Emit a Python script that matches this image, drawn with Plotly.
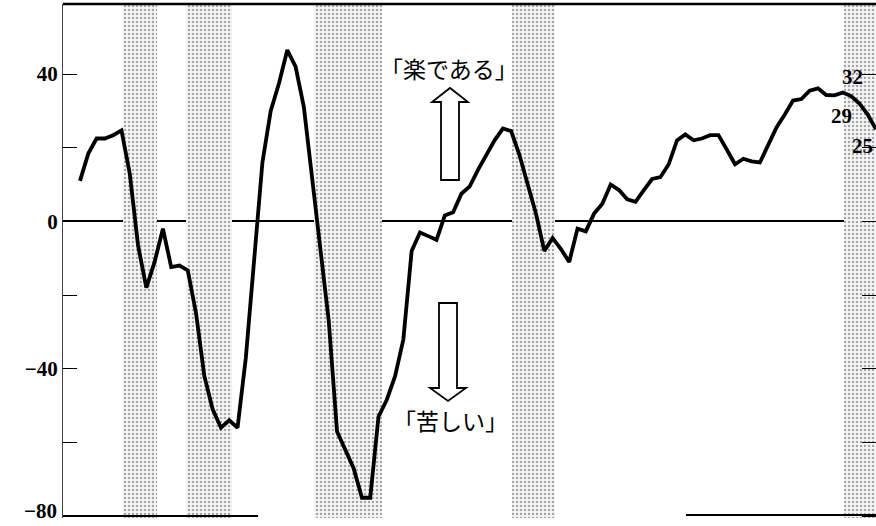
import plotly.graph_objects as go

# ---- data (quarterly index, DI values) ----
di_values = [
    11, 18.4, 22.5, 22.5, 23.4, 24.7, 13, -6.5, -18, -11,
    -2, -12.4, -12, -13.3, -25, -42, -51, -56, -54, -56,
    -37, -9, 16, 30, 37.5, 46.5, 42, 31, 12, -9,
    -27, -57, -62, -67, -75, -75, -53, -48.4, -42, -32,
    -8, -3, -4, -5, 1.6, 2.5, 7.5, 9.5, 14, 18,
    22, 25.2, 24.5, 18, 10, 2, -8, -4.5, -7.5, -11,
    -2, -2.7, 2.1, 4.8, 10, 8.5, 6, 5.3, 8.5, 11.5,
    12, 15.5, 22, 23.6, 22, 22.5, 23.4, 23.4, 19.5, 15.5,
    17, 16.3, 16, 21, 25.5, 29, 32.8, 33.2, 35.5, 36.1,
    34.3, 34.2, 35, 34, 32, 29, 25,
]
period_index = list(range(len(di_values)))

# shaded periods (recessions), in period-index units
band_start = [5.2, 12.8, 28.2, 52.1, 92.2]
band_end = [9.3, 18.3, 36.4, 57.3, 96.6]

# y-axis ticks
tick_vals = [-80, -60, -40, -20, 0, 20, 40]
tick_text = ["", "", "\u221240", "", "0", "", "40"]
bottom_tick_text = "\u221280"

# end labels
end_labels = ["32", "29", "25"]
label_up = "「楽である」"
label_down = "「苦しい」"

# ---- layout constants (pixels) ----
W, H = 876, 526
L, R, T, B = 63, 0, 4, 8
PW, PH = W - L - R, H - T - B
X_RANGE = [-2.05, 96.0]
Y_RANGE = [-80.5, 59]


def px(xp):
    return (xp - L) / PW


def py(yp):
    return (H - B - yp) / PH


fig = go.Figure()

# dotted shaded bands
for s, e in zip(band_start, band_end):
    fig.add_trace(go.Bar(
        x=[(s + e) / 2], y=[Y_RANGE[1] - Y_RANGE[0]], base=[Y_RANGE[0]],
        width=[e - s],
        marker=dict(color="white", line=dict(width=0),
                    pattern=dict(shape=".", fgcolor="#555555", bgcolor="#f6f6f6",
                                 size=4, solidity=0.32)),
        hoverinfo="skip", showlegend=False,
    ))

fig.add_trace(go.Scatter(
    x=period_index, y=di_values, mode="lines",
    line=dict(color="black", width=3.8, shape="linear"),
    showlegend=False, cliponaxis=False,
))

shapes = []
# top border
shapes.append(dict(type="line", xref="paper", yref="paper", x0=0, x1=1, y0=1, y1=1,
                   line=dict(color="black", width=2.5)))
# bottom broken border segments
shapes.append(dict(type="line", xref="paper", yref="paper", x0=0, x1=px(258), y0=py(516), y1=py(516),
                   line=dict(color="black", width=2)))
shapes.append(dict(type="line", xref="paper", yref="paper", x0=px(686), x1=1, y0=py(515), y1=py(515),
                   line=dict(color="black", width=2)))


def arrow_path(points):
    segs = []
    for i, (a, b) in enumerate(points):
        segs.append(("M" if i == 0 else "L") + f"{px(a):.5f},{py(b):.5f}")
    return " ".join(segs) + " Z"


up_pts = [(441, 180), (441, 102), (432, 102), (450, 88), (468, 102), (459, 102), (459, 180)]
down_pts = [(439, 303), (457, 303), (457, 388), (466, 388), (448, 401), (430, 388), (439, 388)]
for pts in (up_pts, down_pts):
    shapes.append(dict(type="path", xref="paper", yref="paper", path=arrow_path(pts),
                       fillcolor="white", line=dict(color="black", width=1.8)))

annotations = [
    dict(text=label_up, x=px(449), y=py(68), xref="paper", yref="paper",
         showarrow=False, xanchor="center", yanchor="middle",
         font=dict(family="Noto Sans CJK JP", size=23, color="black")),
    dict(text=label_down, x=px(450), y=py(420), xref="paper", yref="paper",
         showarrow=False, xanchor="center", yanchor="middle",
         font=dict(family="Noto Sans CJK JP", size=23, color="black")),
    dict(text=bottom_tick_text, x=px(59), xref="paper", y=py(525), yref="paper",
         showarrow=False, xanchor="right", yanchor="bottom",
         font=dict(family="Liberation Serif", size=21, color="black", weight="bold")),
]
for txt, (ax, ay) in zip(end_labels, [(852, 77), (841, 116), (862, 146)]):
    annotations.append(dict(text=txt, x=px(ax), y=py(ay), xref="paper", yref="paper",
                            showarrow=False, xanchor="center", yanchor="middle",
                            font=dict(family="Liberation Serif", size=21, color="black",
                                      weight="bold")))

fig.update_layout(
    width=W, height=H,
    margin=dict(l=L, r=R, t=T, b=B, pad=0, autoexpand=False),
    paper_bgcolor="white", plot_bgcolor="white",
    bargap=0, barmode="overlay",
    shapes=shapes, annotations=annotations,
    xaxis=dict(range=X_RANGE, showgrid=False, zeroline=False, showline=False,
               showticklabels=False, ticks="", fixedrange=True, automargin=False),
    yaxis=dict(range=Y_RANGE, tickvals=tick_vals, ticktext=tick_text,
               showgrid=False, zeroline=True, zerolinecolor="black", zerolinewidth=1.6,
               showline=True, linecolor="#444444", linewidth=1, mirror="ticks",
               ticks="inside", ticklen=14, tickwidth=1.2, tickcolor="black",
               tickfont=dict(family="Liberation Serif", size=21, color="black", weight="bold"),
               layer="above traces", fixedrange=True, automargin=False),
)

fig.write_html("out.html", config={"displayModeBar": False},
               post_script="document.body.style.margin='0px';document.body.style.overflow='hidden';")
